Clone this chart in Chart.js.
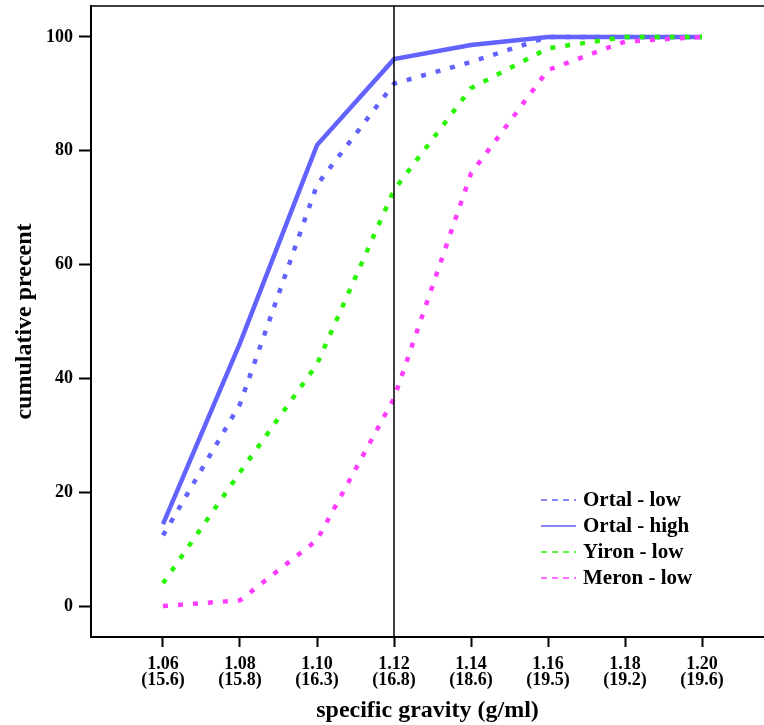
<!DOCTYPE html>
<html>
<head>
<meta charset="utf-8">
<script src="https://cdn.jsdelivr.net/npm/chart.js@4/dist/chart.umd.min.js"></script>
<style>
  html, body { margin: 0; padding: 0; background: #fff; }
  #wrap { width: 764px; height: 725px; overflow: hidden; }
</style>
</head>
<body>
<div id="wrap"><canvas id="myChart" width="764" height="725"></canvas></div>
<script>
// specific gravity classes (x) and the matching values shown in brackets
const gravity = [1.06, 1.08, 1.10, 1.12, 1.14, 1.16, 1.18, 1.20];
const gravityNotes = ['(15.6)', '(15.8)', '(16.3)', '(16.8)', '(18.6)', '(19.5)', '(19.2)', '(19.6)'];
const yTicks = [0, 20, 40, 60, 80, 100];

// cumulative percent per series
const ortalLow = [12.4, 35.5, 74, 91.8, 95.6, 100, 100, 100];
const ortalHigh = [14.4, 46.2, 81, 96.1, 98.6, 100, 100, 100];
const yironLow = [4, 23.5, 42.5, 73.1, 91, 98, 100, 100];
const meronLow = [0, 1, 11.6, 36.5, 76, 94.2, 99.2, 100];

const refGravity = 1.12;

const serif = '"Liberation Serif", "Times New Roman", serif';
const dots = [5, 10];

const series = [
  { label: 'Ortal - low', data: ortalLow, color: 'rgb(98,98,255)', dashed: true, order: 3 },
  { label: 'Ortal - high', data: ortalHigh, color: 'rgb(98,98,255)', dashed: false, order: 4 },
  { label: 'Yiron - low', data: yironLow, color: 'rgb(40,245,0)', dashed: true, order: 2 },
  { label: 'Meron - low', data: meronLow, color: 'rgb(255,60,255)', dashed: true, order: 1 }
];

const refLine = {
  id: 'refLine',
  afterDatasetsDraw(chart) {
    const { ctx, chartArea, scales } = chart;
    const x = scales.x.getPixelForValue(refGravity);
    ctx.save();
    ctx.strokeStyle = '#000';
    ctx.lineWidth = 1.5;
    ctx.beginPath();
    ctx.moveTo(x, chartArea.top);
    ctx.lineTo(x, chartArea.bottom);
    ctx.stroke();
    // top frame line
    ctx.beginPath();
    ctx.moveTo(chartArea.left, chartArea.top);
    ctx.lineTo(chartArea.right, chartArea.top);
    ctx.stroke();
    ctx.restore();
  }
};

const boxLegend = {
  id: 'boxLegend',
  afterDraw(chart) {
    const { ctx, chartArea } = chart;
    const x0 = chartArea.right - 223;
    let y = chartArea.bottom - 137;
    ctx.save();
    ctx.font = 'bold 21px ' + serif;
    ctx.textBaseline = 'middle';
    ctx.fillStyle = '#000';
    chart.data.datasets.forEach(ds => {
      ctx.strokeStyle = ds.borderColor;
      ctx.lineWidth = 1.5;
      ctx.setLineDash(ds.isDashed ? [6, 5] : []);
      ctx.beginPath();
      ctx.moveTo(x0, y);
      ctx.lineTo(x0 + 35, y);
      ctx.stroke();
      ctx.setLineDash([]);
      ctx.fillText(ds.label, x0 + 42, y + 1);
      y += 26;
    });
    ctx.restore();
  }
};

new Chart(document.getElementById('myChart'), {
  type: 'line',
  data: {
    datasets: series.map(s => ({
      label: s.label,
      data: gravity.map((g, i) => ({ x: g, y: s.data[i] })),
      borderColor: s.color,
      backgroundColor: s.color,
      borderWidth: 4.5,
      borderDash: s.dashed ? dots : [],
      borderCapStyle: 'butt',
      isDashed: s.dashed,
      order: s.order,
      pointRadius: 0,
      tension: 0,
      fill: false
    }))
  },
  options: {
    responsive: false,
    animation: false,
    layout: { padding: { top: 6, left: 0, right: 0, bottom: 0 } },
    plugins: { legend: { display: false }, tooltip: { enabled: false } },
    scales: {
      x: {
        type: 'linear',
        min: 1.0413,
        max: 1.2161,
        afterBuildTicks: s => { s.ticks = gravity.map(v => ({ value: v })); },
        afterFit: s => { s.height = 88; s.paddingLeft = 0; s.paddingRight = 0; },
        ticks: {
          color: '#000',
          padding: 9,
          font: { family: serif, size: 18, weight: 'bold', lineHeight: '16px' },
          callback: v => {
            const i = gravity.findIndex(g => Math.abs(g - v) < 1e-6);
            return [v.toFixed(2), gravityNotes[i]];
          }
        },
        grid: { drawOnChartArea: false, color: '#000', tickColor: '#000', tickLength: 10, tickWidth: 2 },
        border: { color: '#000', width: 2 },
        title: {
          display: true,
          text: 'specific gravity (g/ml)',
          color: '#000',
          font: { family: serif, size: 24, weight: 'bold' },
          padding: { top: 0, bottom: 0 }
        }
      },
      y: {
        min: -5.44,
        max: 105.44,
        afterBuildTicks: s => { s.ticks = yTicks.map(v => ({ value: v })); },
        afterFit: s => { s.width = 91; s.paddingTop = 0; s.paddingBottom = 0; },
        ticks: {
          color: '#000',
          padding: 6,
          font: { family: serif, size: 18, weight: 'bold' }
        },
        grid: { drawOnChartArea: false, color: '#000', tickColor: '#000', tickLength: 12, tickWidth: 2 },
        border: { color: '#000', width: 2 },
        title: {
          display: true,
          text: 'cumulative precent',
          color: '#000',
          font: { family: serif, size: 24, weight: 'bold' },
          padding: { top: 10, bottom: 0 }
        }
      }
    }
  },
  plugins: [refLine, boxLegend]
});
</script>
</body>
</html>
